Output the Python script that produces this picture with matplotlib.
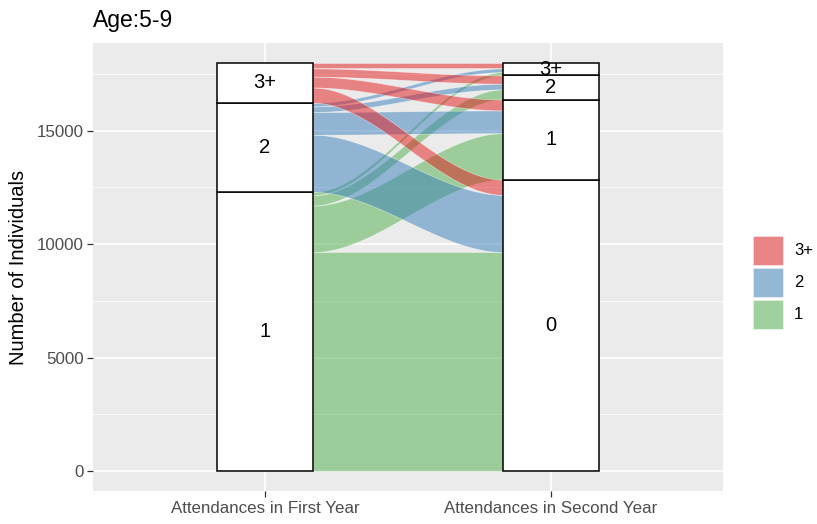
import numpy as np
import matplotlib
matplotlib.use("Agg")
import matplotlib.pyplot as plt
from matplotlib.patches import Rectangle

plt.rcParams['font.family'] = ['Liberation Sans', 'DejaVu Sans']

# Attendance groups (bottom-to-top stacking order)
first_year = ["1", "2", "3+"]
second_year = ["0", "1", "2", "3+"]
axis_labels = ["Attendances in First Year", "Attendances in Second Year"]

# Individuals moving from each first-year group to each second-year group
flow_1 = [9650, 2050, 450, 150]
flow_2 = [2520, 1000, 250, 160]
flow_3p = [670, 480, 360, 240]
flows = np.array([flow_1, flow_2, flow_3p], dtype=float)

legend_levels = ["3+", "2", "1"]
set1 = {"3+": "#E41A1C", "2": "#377EB8", "1": "#4DAF4A"}

W, H = 817, 524
fig = plt.figure(figsize=(W / 100, H / 100), dpi=100)
px_l, px_r, px_t, px_b = 93.4, 722.6, 42.6, 491.4
ax = fig.add_axes([px_l / W, 1 - px_b / H, (px_r - px_l) / W, (px_b - px_t) / H])

total = flows.sum()
ax.set_xlim(0.4, 2.6)
ax.set_ylim(-0.05 * total, 1.05 * total)
ax.set_facecolor("#EBEBEB")
for s in ax.spines.values():
    s.set_visible(False)

# grid
for y in [2500, 7500, 12500, 17500]:
    ax.axhline(y, color="white", lw=0.6, zorder=0)
for y in [0, 5000, 10000, 15000]:
    ax.axhline(y, color="white", lw=1.2, zorder=0)
for x in [1, 2]:
    ax.axvline(x, color="white", lw=1.2, zorder=0)

half = 1 / 6
left_tot = flows.sum(axis=1)
right_tot = flows.sum(axis=0)
left_base = np.concatenate([[0], np.cumsum(left_tot)[:-1]])
right_base = np.concatenate([[0], np.cumsum(right_tot)[:-1]])

# flows between the two axes
x0, x1 = 1 + half, 2 - half
t = np.linspace(0, 1, 200)
s = 3 * t ** 2 - 2 * t ** 3
xs = x0 + (x1 - x0) * t
for i, g in enumerate(first_year):
    for j in range(len(second_year)):
        v = flows[i, j]
        ly = left_base[i] + flows[i, :j].sum()
        ry = right_base[j] + flows[:i, j].sum()
        lower = ly + (ry - ly) * s
        ax.fill_between(xs, lower, lower + v, facecolor=set1[g], alpha=0.5,
                        edgecolor="white", linewidth=0.5, zorder=2)

# strata
def draw_strata(xc, labels, totals, bases):
    for lab, tv, b in zip(labels, totals, bases):
        ax.add_patch(Rectangle((xc - half, b), 2 * half, tv, facecolor="white",
                               edgecolor="black", lw=1.1, zorder=3))
        ax.text(xc, b + tv / 2, lab, ha="center", va="center", fontsize=14.5,
                color="black", zorder=4)

draw_strata(1, first_year, left_tot, left_base)
draw_strata(2, second_year, right_tot, right_base)

ax.set_xticks([1, 2])
ax.set_xticklabels(axis_labels)
ax.set_yticks([0, 5000, 10000, 15000])
ax.set_yticklabels(["0", "5000", "10000", "15000"])
ax.tick_params(axis="both", colors="#333333", labelcolor="#4D4D4D",
               labelsize=12.2, length=4, width=0.9, pad=3)
ax.set_ylabel("Number of Individuals", fontsize=14.5, color="black", labelpad=6)
fig.text(px_l / W, 1 - 20 / H, "Age:5-9", fontsize=16.5, ha="left", va="center")

# legend keys
key_top = 236
for k, lev in enumerate(legend_levels):
    y_top = key_top + k * 32
    fig.add_artist(Rectangle((753 / W, 1 - (y_top + 29) / H), 30 / W, 29 / H,
                             transform=fig.transFigure, facecolor="#F2F2F2",
                             edgecolor="none"))
    fig.add_artist(Rectangle((753 / W, 1 - (y_top + 29) / H), 30 / W, 29 / H,
                             transform=fig.transFigure, facecolor=set1[lev],
                             alpha=0.5, edgecolor="white", lw=0.6))
    fig.text(794 / W, 1 - (y_top + 14.5) / H, lev, fontsize=12, ha="left",
             va="center", color="black")

fig.savefig("out.png", dpi=100)
